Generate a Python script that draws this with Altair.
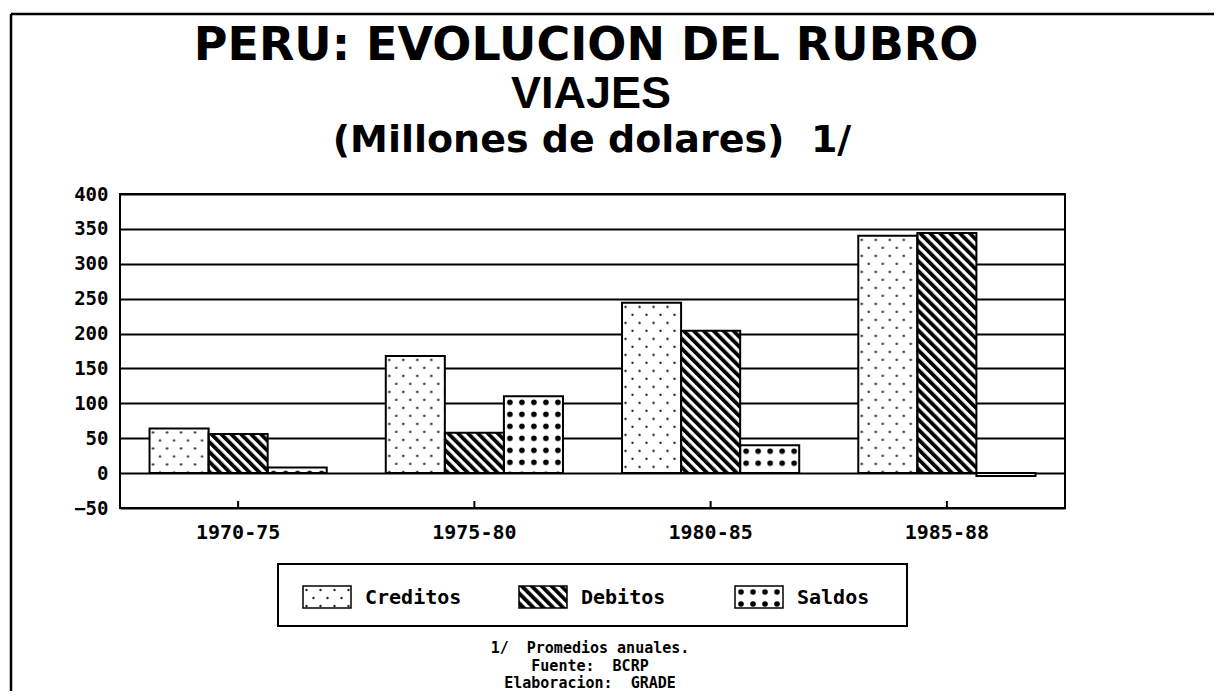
import base64
import altair as alt
import pandas as pd

# ---------------- data ----------------
periods = ["1970-75", "1975-80", "1980-85", "1985-88"]
series = ["Creditos", "Debitos", "Saldos"]
creditos = [64, 168, 244, 340]
debitos = [56, 58, 204, 344]
saldos = [8, 110, 40, -4]
y_ticks = [-50, 0, 50, 100, 150, 200, 250, 300, 350, 400]

title_line1 = "PERU: EVOLUCION DEL RUBRO"
title_line2 = "VIAJES"
subtitle_text = "(Millones de dolares)\u00a0\u00a01/"
notes = ["1/\u00a0\u00a0Promedios anuales.", "Fuente:\u00a0\u00a0BCRP", "Elaboracion:\u00a0\u00a0GRADE"]

# ---------------- fill patterns (style) ----------------
pattern_defs = {
    "Creditos": '<pattern id="p" width="14" height="16" patternUnits="userSpaceOnUse">'
                '<circle cx="3.5" cy="4" r="1.2" fill="#222"/><circle cx="10.5" cy="12" r="1.2" fill="#222"/></pattern>',
    "Debitos": '<pattern id="p" width="7" height="7" patternUnits="userSpaceOnUse" patternTransform="rotate(-45)">'
               '<rect x="0" y="0" width="3.8" height="7" fill="#000"/></pattern>',
    "Saldos": '<pattern id="p" width="12" height="12" patternUnits="userSpaceOnUse">'
              '<circle cx="6" cy="6" r="2.8" fill="#000"/></pattern>',
}


def pattern_uri(defs):
    svg = ('<svg xmlns="http://www.w3.org/2000/svg"><defs>' + defs +
           '</defs><rect width="100%" height="100%" fill="url(#p)"/></svg>')
    return "data:image/svg+xml;base64," + base64.b64encode(svg.encode()).decode()


urls = {s: pattern_uri(d) for s, d in pattern_defs.items()}

values = {"Creditos": creditos, "Debitos": debitos, "Saldos": saldos}
rows = []
for i, p in enumerate(periods):
    for s in series:
        rows.append({"period": p, "series": s, "value": values[s][i], "url": urls[s]})
df = pd.DataFrame(rows)
legend_df = pd.DataFrame({"series": series, "url": [urls[s] for s in series]})
period_df = pd.DataFrame({"period": periods})

W, H = 945, 314
MONO = "DejaVu Sans Mono"

x_enc = alt.X("period:N", sort=periods,
              scale=alt.Scale(paddingInner=0.25, paddingOuter=0.125),
              axis=alt.Axis(title=None, labelAngle=0, labelFont=MONO, labelFontWeight="bold",
                            labelFontSize=20, labelColor="black", labelPadding=14,
                            ticks=False, domain=False, grid=False))
xo_enc = alt.XOffset("series:N", sort=series, scale=alt.Scale(paddingInner=0, paddingOuter=0))
y_enc = alt.Y("value:Q", scale=alt.Scale(domain=[-50, 400], nice=False, zero=False),
              axis=alt.Axis(title=None, values=y_ticks, labelFont=MONO, labelFontWeight="bold",
                            labelFontSize=19, labelColor="black", labelPadding=12,
                            ticks=False, domain=False, grid=True, gridColor="black",
                            gridWidth=2, gridOpacity=1))

base = alt.Chart(df).encode(x=x_enc, xOffset=xo_enc, y=y_enc, y2=alt.Y2(datum=0))

bg = base.mark_bar(color="white", strokeWidth=0)
img = base.mark_image(aspect=False).encode(url="url:N")
outline = base.mark_bar(fillOpacity=0, stroke="black", strokeWidth=2)
ticks = alt.Chart(period_df).mark_rule(color="black", strokeWidth=2).encode(
    x=alt.X("period:N", sort=periods), y=alt.value(H - 7), y2=alt.value(H))

plot = alt.layer(bg, img, outline, ticks)

# ---------------- titles, legend, notes, frame ----------------
one = alt.Data(values=[{}])


def label(text, x, y, font, size, weight="bold", line_height=None):
    kw = dict(text=text, align="center", baseline="alphabetic", font=font,
              fontWeight=weight, fontSize=size, color="black")
    if line_height:
        kw["lineHeight"] = line_height
    return alt.Chart(one).mark_text(**kw).encode(x=alt.value(x), y=alt.value(y))


t1 = label(title_line1, 466, -134, "DejaVu Sans", 46)
t2 = label(title_line2, 471, -86, "Liberation Sans Narrow, Liberation Sans", 45)
t3 = label(subtitle_text, 472, -42, "DejaVu Sans", 38)

leg_x = alt.X("series:N", sort=series,
              scale=alt.Scale(type="point", range=[207, 639], padding=0), axis=None)
LEG_Y = 403

box = alt.Chart(one).mark_rect(fill="white", stroke="black", strokeWidth=2).encode(
    x=alt.value(158), x2=alt.value(787), y=alt.value(370), y2=alt.value(432))
sw_bg = alt.Chart(legend_df).mark_rect(width=48, height=22, color="white").encode(
    x=leg_x, y=alt.value(LEG_Y))
sw_img = alt.Chart(legend_df).mark_image(width=48, height=22, aspect=False).encode(
    x=leg_x, y=alt.value(LEG_Y), url="url:N")
sw_out = alt.Chart(legend_df).mark_rect(width=48, height=22, fillOpacity=0,
                                        stroke="black", strokeWidth=1.5).encode(
    x=leg_x, y=alt.value(LEG_Y))
sw_txt = alt.Chart(legend_df).mark_text(align="left", baseline="middle", dx=38, dy=1,
                                        font=MONO, fontWeight="bold", fontSize=20,
                                        color="black").encode(
    x=leg_x, y=alt.value(LEG_Y), text="series:N")

note = label(notes, 470, 459, MONO, 15, line_height=17.5)

frame_top = alt.Chart(one).mark_rule(color="black", strokeWidth=2.5).encode(
    x=alt.value(-109), x2=alt.value(1094), y=alt.value(-180))
frame_left = alt.Chart(one).mark_rule(color="black", strokeWidth=2.5).encode(
    x=alt.value(-109), y=alt.value(-180), y2=alt.value(497))

deco = alt.layer(t1, t2, t3, box, sw_bg, sw_img, sw_out, sw_txt, note, frame_top, frame_left)

chart = alt.layer(plot, deco).resolve_scale(x="independent").properties(
    width=W, height=H,
    autosize=alt.AutoSizeParams(type="none"),
    padding={"left": 112, "top": 186, "right": 149, "bottom": 183},
).configure(background="white").configure_view(stroke="black", strokeWidth=2)

chart.save("out.html", embed_options={"renderer": "svg", "actions": False})
